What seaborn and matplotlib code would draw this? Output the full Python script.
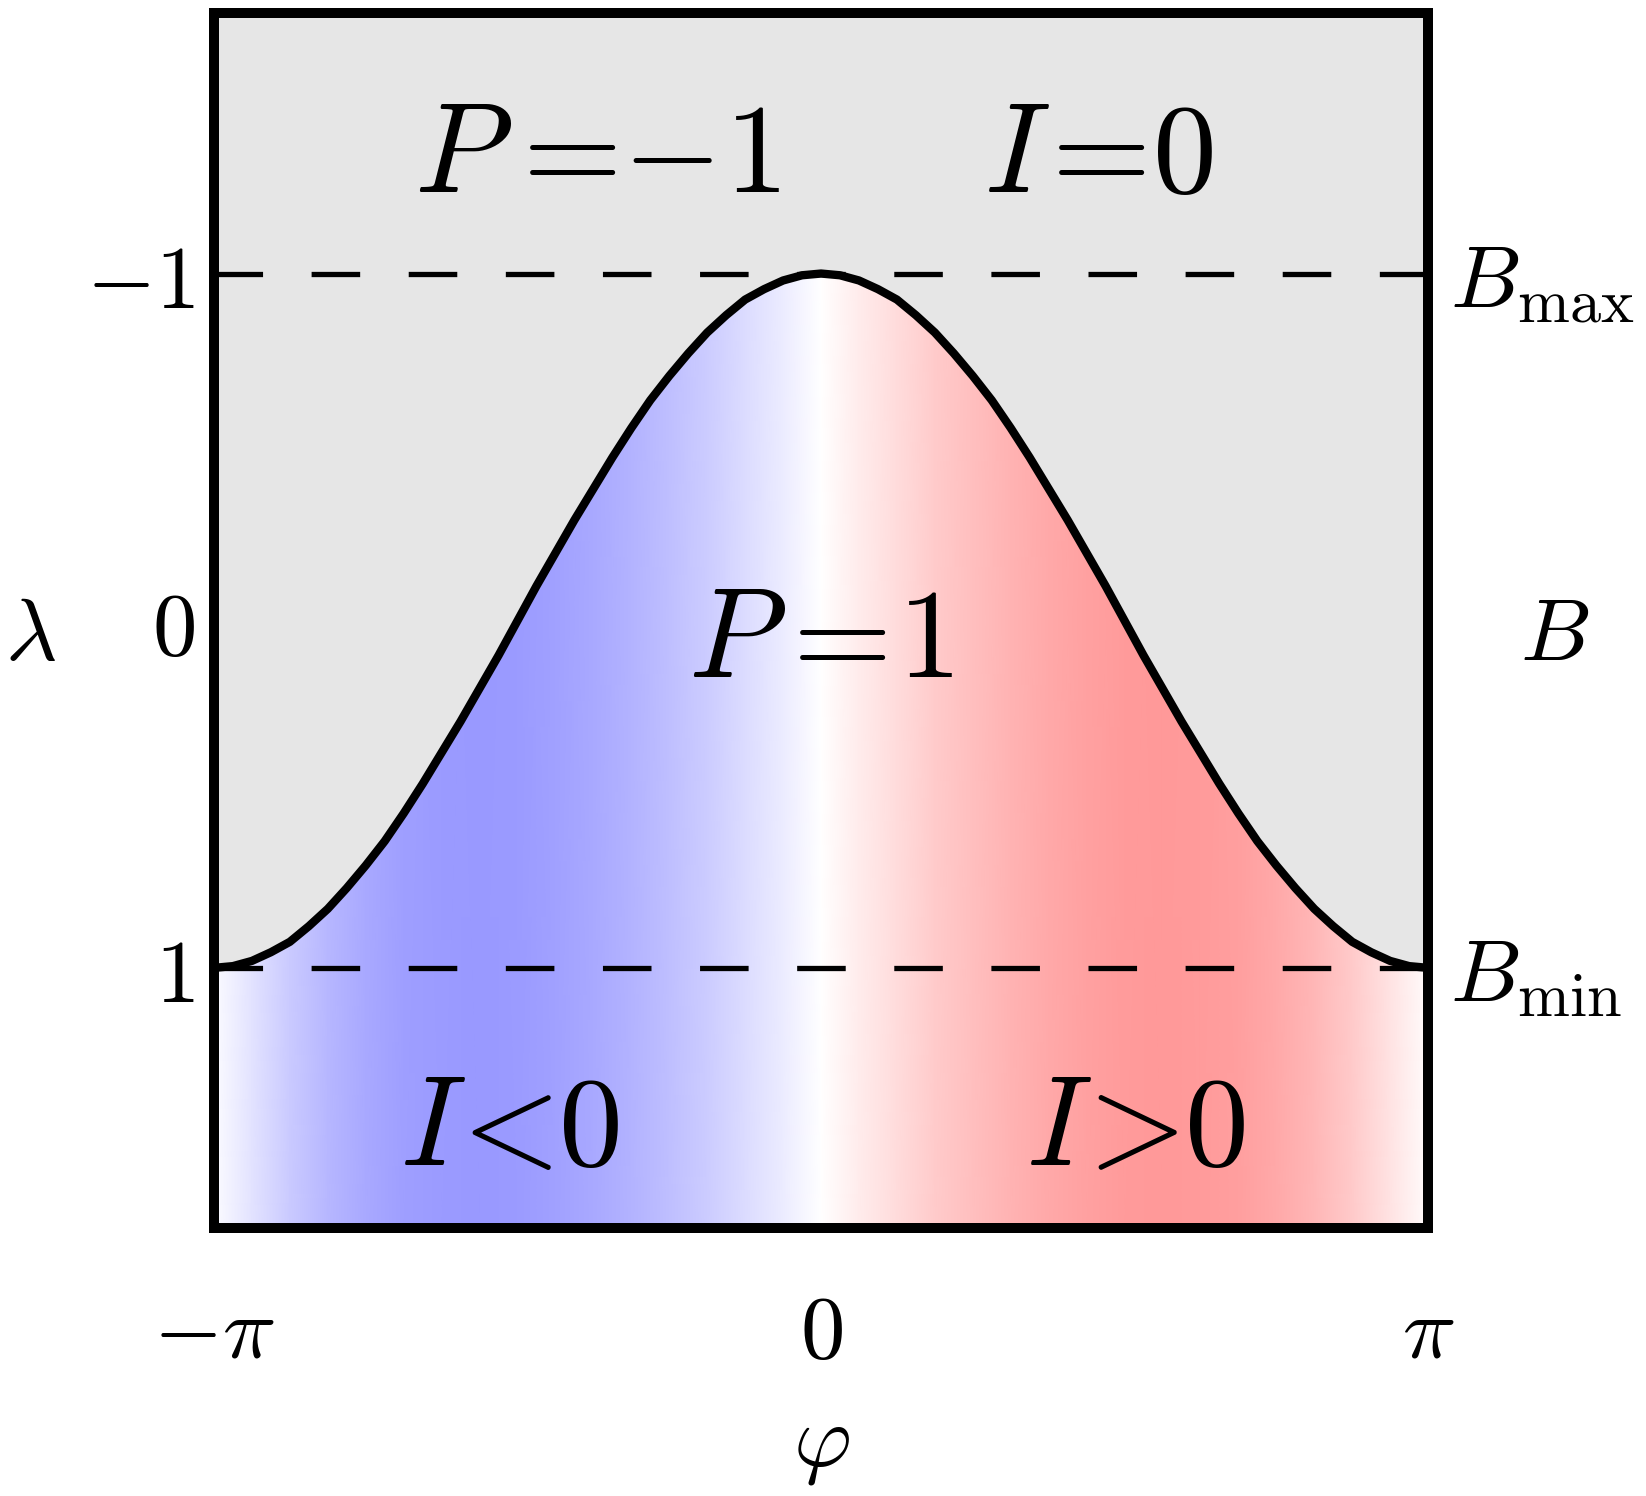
import numpy as np
import matplotlib
matplotlib.use("Agg")
import matplotlib.pyplot as plt
import seaborn as sns
from matplotlib.colors import LinearSegmentedColormap

# =============================================================================
# data
# =============================================================================
# boundary curve lambda(phi), sampled every pi/32 from -pi to pi
PHI_CURVE = np.arange(-32, 33) / 32 * np.pi
LAM_CURVE = [
    1.00, 0.995, 0.98, 0.955, 0.925, 0.88, 0.83, 0.77, 0.705, 0.635, 0.555,
    0.47, 0.38, 0.29, 0.195, 0.10, 0.00, -0.10, -0.195, -0.29, -0.38, -0.47,
    -0.555, -0.635, -0.705, -0.77, -0.83, -0.88, -0.925, -0.955, -0.98, -0.995,
    -1.00,
    -0.995, -0.98, -0.955, -0.925, -0.88, -0.83, -0.77, -0.705, -0.635, -0.555,
    -0.47, -0.38, -0.29, -0.195, -0.10, 0.00, 0.10, 0.195, 0.29, 0.38, 0.47,
    0.555, 0.635, 0.705, 0.77, 0.83, 0.88, 0.925, 0.955, 0.98, 0.995, 1.00,
]

# colour shading (I sign), sampled every pi/16: -1 = full blue, +1 = full red
PHI_SHADE = np.arange(-16, 17) / 16 * np.pi
I_SHADE = [
    -0.03, -0.28, -0.52, -0.70, -0.84, -0.93, -0.98, -1.00, -0.97, -0.92,
    -0.84, -0.74, -0.62, -0.50, -0.34, -0.18, 0.00, 0.18, 0.34, 0.50, 0.62,
    0.74, 0.84, 0.92, 0.97, 1.00, 0.98, 0.93, 0.84, 0.70, 0.52, 0.28, 0.03,
]

X_TICKS = [-np.pi, 0, np.pi]
X_TICKLABELS = [r"$-\pi$", r"$0$", r"$\pi$"]
Y_TICKS = [-1, 0, 1]
Y_TICKLABELS = [r"$-1$", r"$0$", r"$1$"]
B_TICKS = [-1, 1]
B_TICKLABELS = [r"$B_{\max}$", r"$B_{\min}$"]

# region labels (tight TeX-like spacing)
REGION_TEXT = [
    r"$P\hspace{0.04}=\hspace{-0.2}{-}\hspace{0.03}1$",
    r"$I\hspace{-0.1}=\hspace{-0.18}0$",
    r"$P=\hspace{-0.15}1$",
    r"$I\hspace{-0.15}<\hspace{-0.22}0$",
    r"$I\hspace{-0.15}>\hspace{-0.22}0$",
]
REGION_PHI = [-1.16, 1.44, 0.0, -1.61, 1.63]
REGION_LAM = [-1.236, -1.236, 0.163, 1.567, 1.567]

YLIM = 1.75

# =============================================================================
# style
# =============================================================================
sns.set_theme(style="white")
plt.rcParams["mathtext.fontset"] = "cm"
plt.rcParams["font.family"] = ["DejaVu Serif", "DejaVu Sans"]
for key in ["text.color", "axes.labelcolor", "xtick.color", "ytick.color"]:
    plt.rcParams[key] = "black"

cmap = LinearSegmentedColormap.from_list("bwr_soft", ["#9999ff", "#ffffff", "#ff9999"])

fig = plt.figure(figsize=(16.46, 14.96), dpi=100)
ax = fig.add_axes([0.130, 0.179, 0.7376, 0.8122])
ax.set_facecolor("#e6e6e6")
ax.set_xlim(-np.pi, np.pi)
ax.set_ylim(YLIM, -YLIM)

# gradient under the curve
X, Y = np.meshgrid(PHI_SHADE, [-YLIM, YLIM])
C = np.vstack([I_SHADE, I_SHADE])
mesh = ax.pcolormesh(X, Y, C, cmap=cmap, vmin=-1, vmax=1, shading="gouraud", zorder=1)
fill = ax.fill_between(PHI_CURVE, LAM_CURVE, YLIM, facecolor="none", edgecolor="none")
mesh.set_clip_path(fill.get_paths()[0], ax.transData)

# B_max / B_min reference lines
for yv in [-1, 1]:
    ax.axhline(yv, color="black", lw=3.8, linestyle=(0, (9.2, 9.2)), zorder=2)

# boundary curve
sns.lineplot(x=PHI_CURVE, y=LAM_CURVE, color="black", linewidth=6, sort=False,
             ax=ax, zorder=3)

for txt, px, py in zip(REGION_TEXT, REGION_PHI, REGION_LAM):
    ax.text(px, py, txt, fontsize=92, ha="center", va="baseline", zorder=4)

ax.set_xticks(X_TICKS, X_TICKLABELS)
ax.set_yticks(Y_TICKS, Y_TICKLABELS)
ax.tick_params(axis="x", length=0, labelsize=64, pad=44)
ax.tick_params(axis="y", length=0, labelsize=64, pad=14)

for sp in ax.spines.values():
    sp.set_visible(True)
    sp.set_linewidth(7.2)
    sp.set_color("black")
    sp.set_zorder(5)

ax.set_xlabel(r"$\varphi$", fontsize=64, va="center")
ax.xaxis.set_label_coords(0.5, -0.177)
ax.set_ylabel(r"$\lambda$", fontsize=64, rotation=0, va="center", ha="center")
ax.yaxis.set_label_coords(-0.151, 0.488)

# right hand B axis
ax2 = ax.twinx()
ax2.set_ylim(YLIM, -YLIM)
ax2.set_yticks(B_TICKS, B_TICKLABELS)
ax2.tick_params(axis="y", length=0, labelsize=64, pad=16)
for sp in ax2.spines.values():
    sp.set_visible(False)
ax2.set_ylabel(r"$B$", fontsize=64, rotation=0, va="center", ha="center")
ax2.yaxis.set_label_coords(1.104, 0.488)

fig.savefig("out.png", dpi=100)
plt.close(fig)
